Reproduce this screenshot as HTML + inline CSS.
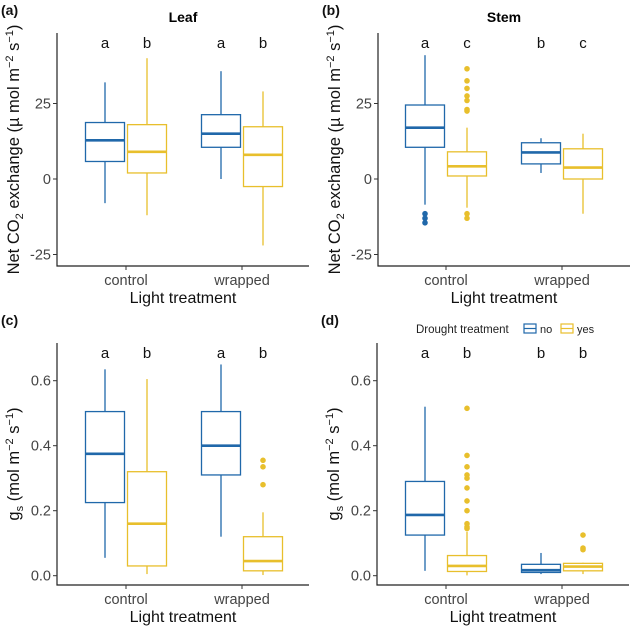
<!DOCTYPE html>
<html><head><meta charset="utf-8"><style>
body{margin:0;background:#fff}
svg text{font-family:"Liberation Sans",sans-serif;}
</style></head><body>
<svg id="chart" width="633" height="626" viewBox="0 0 633 626" xmlns="http://www.w3.org/2000/svg"></svg>
<script>
// Panel data: [max, q3, median, q1, min] per group, order: control-no, control-yes, wrapped-no, wrapped-yes
const categories = ["control", "wrapped"];
const drought = ["no", "yes"];
const aStats = [[32,18.7,12.8,5.8,-8],[40,18,9,2,-12],[35.7,21.3,15,10.5,0],[29,17.3,8,-2.5,-22]];
const aOut = [[],[],[],[]];
const aLetters = ["a","b","a","b"];
const bStats = [[41,24.5,17,10.5,-8.5],[17,9,4.2,1,-9.5],[13.5,12,8.8,5,2],[15,10,3.8,0,-11.5]];
const bOut = [[-11.5,-13,-14.5],[36.5,32.5,30,27.5,26,23,22.5,-11.5,-13],[],[]];
const bLetters = ["a","c","b","c"];
const cStats = [[0.635,0.505,0.375,0.225,0.055],[0.605,0.32,0.16,0.03,0.005],[0.65,0.505,0.4,0.31,0.12],[0.195,0.12,0.045,0.015,0.002]];
const cOut = [[],[],[],[0.355,0.335,0.28]];
const cLetters = ["a","b","a","b"];
const dStats = [[0.52,0.29,0.187,0.125,0.015],[0.135,0.062,0.03,0.013,0.001],[0.07,0.035,0.017,0.01,0.005],[0.04,0.038,0.028,0.015,0.005]];
const dOut = [[],[0.515,0.37,0.335,0.31,0.30,0.27,0.23,0.20,0.16,0.15,0.145],[],[0.125,0.085,0.08]];
const dLetters = ["a","b","b","b"];
const co2Ticks = [25,0,-25];
const gsTicks = [0.0,0.2,0.4,0.6];

const svg=document.getElementById('chart');
const NS='http://www.w3.org/2000/svg';
const COL=['#2068aa','#e8bf2c'];
function el(tag,attrs,parent){const e=document.createElementNS(NS,tag);for(const k in attrs)e.setAttribute(k,attrs[k]);(parent||svg).appendChild(e);return e;}
function txt(s,attrs,parent){const t=el('text',attrs,parent);t.textContent=s;return t;}

function panel(o){
  const g=el('g',{});
  
  
  const y=v=>o.y0+(v-o.v0)*o.k;
  const xc=i=>o.ax+o.cx[i];
  const ax=el('path',{d:`M${o.ax} ${o.top} V${o.bottom} H${o.ax+252}`,stroke:'#222',fill:'none','stroke-width':1.2},g);
  
  
  o.ticks.forEach(t=>{
    el('line',{x1:o.ax-4,x2:o.ax,y1:y(t),y2:y(t),stroke:'#333'},g);
    const tl=txt(o.fmt(t),{x:o.ax-6,y:y(t)+5,'text-anchor':'end','font-size':14.5,fill:'#444'},g);
    
    
  });
  categories.forEach((c,i)=>{
    el('line',{x1:xc(i),x2:xc(i),y1:o.bottom,y2:o.bottom+4,stroke:'#333'},g);
    const cl=txt(c,{x:xc(i),y:o.bottom+19,'text-anchor':'middle','font-size':14.5,fill:'#444'},g);
    
    
  });
  const xt=txt('Light treatment',{x:o.ax+126,y:o.bottom+37,'text-anchor':'middle','font-size':16,fill:'#111'},g);
  
  
  const pl=txt('('+o.id+')',{x:o.ax-56,y:o.top-18,'font-size':14,'font-weight':'bold',fill:'#111'},g);
  
  
  if(o.title){const tt=txt(o.title,{x:o.ax+126,y:o.top-11,'text-anchor':'middle','font-size':14,'font-weight':'bold'},g);
    
    }
  const yt=el('text',{transform:`translate(${o.ax-38},${(o.top+o.bottom)/2}) rotate(-90)`,'text-anchor':'middle','font-size':16.5,fill:'#111'},g);
  yt.innerHTML=o.ylab;
  
  
  o.stats.forEach((s,j)=>{
    const ci=Math.floor(j/2), di=j%2;
    const x=xc(ci)+(di?21:-21), w=39, c=COL[di];
    const b=el('g',{},g);
    
    
    el('line',{x1:x,x2:x,y1:y(s[0]),y2:y(s[1]),stroke:c,'stroke-width':1.3},b);
    el('line',{x1:x,x2:x,y1:y(s[3]),y2:y(s[4]),stroke:c,'stroke-width':1.3},b);
    el('rect',{x:x-w/2,y:y(s[1]),width:w,height:y(s[3])-y(s[1]),fill:'none',stroke:c,'stroke-width':1.3},b);
    el('line',{x1:x-w/2,x2:x+w/2,y1:y(s[2]),y2:y(s[2]),stroke:c,'stroke-width':2.6},b);
    o.out[j].forEach(v=>{
      const p=el('circle',{cx:x,cy:y(v),r:2.8,fill:c},b);
      
      
    });
    const lt=txt(o.letters[j],{x:x,y:o.top+15,'text-anchor':'middle','font-size':15,fill:'#111'},g);
    
    
  });
}
const co2lab='Net CO<tspan font-size="11" dy="4">2</tspan><tspan dy="-4"> exchange (µ mol m</tspan><tspan font-size="11" dy="-6">−2</tspan><tspan dy="6"> s</tspan><tspan font-size="11" dy="-6">−1</tspan><tspan dy="6">)</tspan>';
const gslab='g<tspan font-size="11" dy="4">s</tspan><tspan dy="-4"> (mol m</tspan><tspan font-size="11" dy="-6">−2</tspan><tspan dy="6"> s</tspan><tspan font-size="11" dy="-6">−1</tspan><tspan dy="6">)</tspan>';
const k1=(254-103)/-50, k2=(380.7-575.7)/0.6;
panel({id:'a',title:'Leaf',ax:57,top:33,bottom:266,y0:179,v0:0,k:k1,cx:[69,185],ticks:co2Ticks,fmt:t=>String(t),ylab:co2lab,stats:aStats,out:aOut,letters:aLetters});
panel({id:'b',title:'Stem',ax:378,top:33,bottom:266,y0:179,v0:0,k:k1,cx:[68,184],ticks:co2Ticks,fmt:t=>String(t),ylab:co2lab,stats:bStats,out:bOut,letters:bLetters});
panel({id:'c',ax:57,top:343,bottom:585,y0:575.7,v0:0,k:k2,cx:[69,185],ticks:gsTicks,fmt:t=>t.toFixed(1),ylab:gslab,stats:cStats,out:cOut,letters:cLetters});
panel({id:'d',ax:377,top:343,bottom:585,y0:575.7,v0:0,k:k2,cx:[69,185],ticks:gsTicks,fmt:t=>t.toFixed(1),ylab:gslab,stats:dStats,out:dOut,letters:dLetters});
const lg=el('g',{});


const lgt=txt('Drought treatment',{x:416,y:333,'font-size':11.5,fill:'#222'},lg);


[[524,'no',0],[561,'yes',1]].forEach(([x,l,i])=>{
  const e=el('g',{},lg);
  
  
  el('rect',{x:x,y:324,width:12,height:9,fill:'none',stroke:COL[i],'stroke-width':1.2},e);
  el('line',{x1:x,x2:x+12,y1:328.5,y2:328.5,stroke:COL[i],'stroke-width':1.2},e);
  txt(l,{x:x+16,y:333,'font-size':11,fill:'#222'},e);
});
</script>
</body></html>
